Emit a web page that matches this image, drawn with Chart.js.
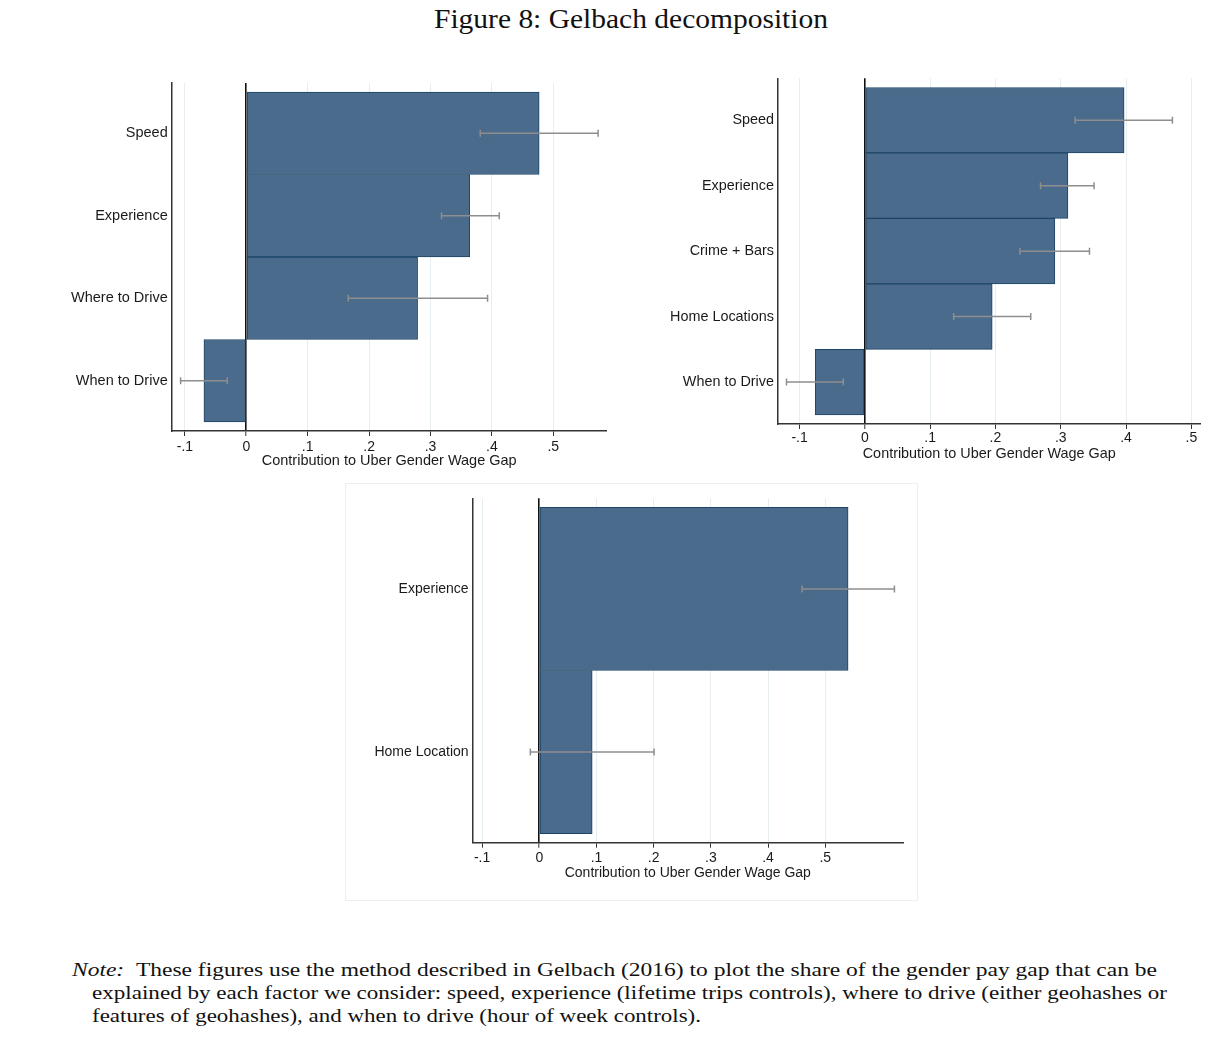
<!DOCTYPE html>
<html><head><meta charset="utf-8">
<script src="https://cdn.jsdelivr.net/npm/chart.js@4.4.1/dist/chart.umd.min.js"></script>
<style>
html,body{margin:0;padding:0;background:#fff;width:1229px;height:1050px;overflow:hidden;}
.box{position:absolute;}
.frame{position:absolute;border:1px solid #efefef;box-sizing:border-box;}
.txt{position:absolute;white-space:nowrap;font-family:"Liberation Serif","Times New Roman",serif;color:#111;transform-origin:0 0;}
</style></head><body>
<div id="title" class="txt" style="font-size:28px;line-height:28px;top:5px;left:434px">Figure 8: Gelbach decomposition</div>
<div class="box" style="left:40px;top:75px;width:580px;height:400px"><canvas id="c1"></canvas></div>
<div class="box" style="left:640px;top:70px;width:580px;height:400px"><canvas id="c2"></canvas></div>
<div class="frame" style="left:345px;top:483px;width:573px;height:418px"></div>
<div class="box" style="left:345px;top:483px;width:572px;height:417px"><canvas id="c3"></canvas></div>
<div id="n1" class="txt" style="font-size:19px;line-height:19px;top:960px;left:72px"><i>Note:</i>&nbsp;&nbsp;These figures use the method described in Gelbach (2016) to plot the share of the gender pay gap that can be</div>
<div id="n2" class="txt" style="font-size:19px;line-height:19px;top:983px;left:92px">explained by each factor we consider: speed, experience (lifetime trips controls), where to drive (either geohashes or</div>
<div id="n3" class="txt" style="font-size:19px;line-height:19px;top:1006px;left:92px">features of geohashes), and when to drive (hour of week controls).</div>
<script>
// ---- data ----
const xTickValues = [-0.1, 0, 0.1, 0.2, 0.3, 0.4, 0.5];
const xTickLabels = ['-.1', '0', '.1', '.2', '.3', '.4', '.5'];
const axisTitle = 'Contribution to Uber Gender Wage Gap';

const cats1 = ['Speed', 'Experience', 'Where to Drive', 'When to Drive'];
const vals1 = [0.477, 0.364, 0.279, -0.069];
const lo1   = [0.381, 0.318, 0.166, -0.107];
const hi1   = [0.573, 0.412, 0.393, -0.031];

const cats2 = ['Speed', 'Experience', 'Crime + Bars', 'Home Locations', 'When to Drive'];
const vals2 = [0.397, 0.311, 0.291, 0.195, -0.076];
const lo2   = [0.322, 0.269, 0.2375, 0.136, -0.120];
const hi2   = [0.471, 0.351, 0.344, 0.254, -0.033];

const cats3 = ['Experience', 'Home Location'];
const vals3 = [0.540, 0.0925];
const lo3   = [0.4596, -0.0156];
const hi3   = [0.621, 0.2007];

Chart.defaults.font.family = '"Liberation Sans", Arial, sans-serif';
Chart.defaults.color = '#1a1a1a';

function makeChart(id, cats, vals, lo, hi, cfg) {
  const datasets = [{
    type: 'bar',
    data: cats.map((c, i) => ({x: vals[i], y: i})),
    backgroundColor: '#4a6b8b',
    borderColor: '#1d4467',
    borderWidth: 1,
    borderSkipped: false,
    barPercentage: 1,
    categoryPercentage: 1,
    order: 1
  }];
  cats.forEach((c, i) => {
    datasets.push({
      type: 'line',
      data: [{x: lo[i], y: i}, {x: hi[i], y: i}],
      borderColor: '#8e8e8e',
      borderWidth: 1.5,
      pointStyle: 'line',
      rotation: 90,
      pointRadius: 3.5,
      pointBorderColor: '#8e8e8e',
      pointBorderWidth: 1.5,
      fill: false,
      order: 0
    });
  });
  new Chart(document.getElementById(id), {
    type: 'bar',
    data: {datasets},
    options: {
      indexAxis: 'y',
      responsive: true,
      maintainAspectRatio: false,
      animation: false,
      events: [],
      layout: {padding: cfg.padding},
      plugins: {legend: {display: false}, tooltip: {enabled: false}},
      scales: {
        x: {
          type: 'linear',
          min: cfg.xmin, max: cfg.xmax,
          offset: false,
          afterBuildTicks: s => { s.ticks = xTickValues.map(v => ({value: v})); },
          afterFit: s => { s.height = cfg.xHeight; s.paddingLeft = 0; s.paddingRight = 0; },
          ticks: {
            callback: (v, i) => xTickLabels[i],
            font: {size: cfg.tickSize},
            padding: cfg.tickPad,
            maxRotation: 0, autoSkip: false
          },
          grid: {
            offset: false,
            color: ctx => (ctx.tick && ctx.tick.value === 0) ? '#111' : '#e6eef1',
            lineWidth: ctx => (ctx.tick && ctx.tick.value === 0) ? 1.6 : 1,
            tickColor: '#333',
            tickLength: 5,
            tickWidth: 1
          },
          border: {display: true, color: '#333', width: 1.5},
          title: {display: true, text: axisTitle, font: {size: cfg.titleSize}, color: '#1a1a1a', padding: {top: 0, bottom: 0}}
        },
        y: {
          type: 'linear',
          reverse: true,
          offset: false,
          min: -0.5 - cfg.gap, max: cats.length - 0.5 + cfg.gap,
          afterBuildTicks: s => { s.ticks = cats.map((c, i) => ({value: i})); },
          afterFit: s => { s.width = cfg.yWidth; s.paddingTop = 0; s.paddingBottom = 0; },
          ticks: {
            callback: v => cats[v],
            font: {size: cfg.labelSize},
            padding: 4,
            autoSkip: false
          },
          grid: {display: false, drawTicks: false, offset: false},
          border: {display: true, color: '#333', width: 1.5}
        }
      }
    }
  });
}

makeChart('c1', cats1, vals1, lo1, hi1, {
  xmin: -0.1215, xmax: 0.587, gap: 0.11,
  yWidth: 131.7, xHeight: 39,
  padding: {top: 8, right: 13.3, bottom: 5, left: 0},
  tickSize: 14, tickPad: 2.3, titleSize: 14.5, labelSize: 14.5
});
makeChart('c2', cats2, vals2, lo2, hi2, {
  xmin: -0.133, xmax: 0.514, gap: 0.14,
  yWidth: 138, xHeight: 38.4,
  padding: {top: 8.3, right: 19.5, bottom: 7.6, left: 0},
  tickSize: 14, tickPad: 0.8, titleSize: 14.4, labelSize: 14.4
});
makeChart('c3', cats3, vals3, lo3, hi3, {
  xmin: -0.1166, xmax: 0.636, gap: 0.055,
  yWidth: 127.6, xHeight: 38.7,
  padding: {top: 15.3, right: 14, bottom: 18.6, left: 0},
  tickSize: 14, tickPad: 1.9, titleSize: 14, labelSize: 14
});

function fit(id, w) {
  const el = document.getElementById(id);
  const cur = el.getBoundingClientRect().width;
  el.style.transform = 'scaleX(' + (w / cur) + ')';
}
fit('title', 394);
fit('n1', 1085);
fit('n2', 1075);
fit('n3', 609);
</script>
</body></html>
